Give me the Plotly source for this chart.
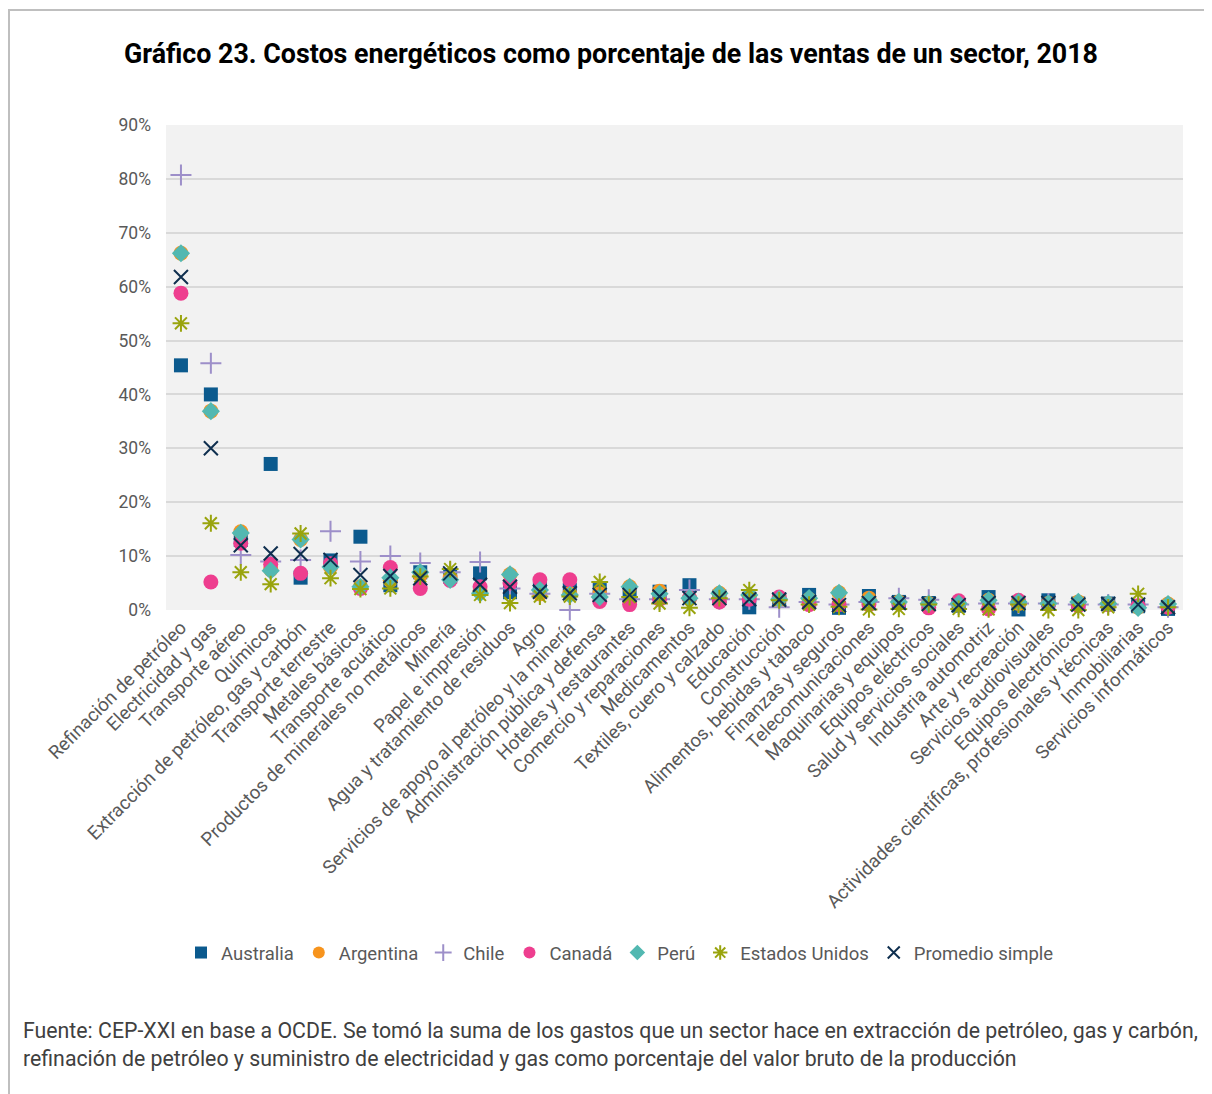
import plotly.graph_objects as go

categories = [
    "Refinación de petróleo", "Electricidad y gas", "Transporte aéreo", "Químicos",
    "Extracción de petróleo, gas y carbón", "Transporte terrestre", "Metales básicos",
    "Transporte acuático", "Productos de minerales no metálicos", "Minería",
    "Papel e impresión", "Agua y tratamiento de residuos", "Agro",
    "Servicios de apoyo al petróleo y la minería", "Administración pública y defensa",
    "Hoteles y restaurantes", "Comercio y reparaciones", "Medicamentos",
    "Textiles, cuero y calzado", "Educación", "Construcción", "Alimentos, bebidas y tabaco",
    "Finanzas y seguros", "Telecomunicaciones", "Maquinarias y equipos", "Equipos eléctricos",
    "Salud y servicios sociales", "Industria automotriz", "Arte y recreación",
    "Servicios audiovisuales", "Equipos electrónicos",
    "Actividades científicas, profesionales y técnicas", "Inmobiliarias", "Servicios informáticos",
]

australia = [45.4, 40.0, 13.0, 27.1, 6.0, 9.2, 13.6, 4.6, 7.0, 6.2, 6.8, 3.3, 4.0, 3.7, 3.7, 2.6, 3.4,
             4.6, 2.5, 0.5, 2.0, 2.8, 0.4, 2.6, 1.5, 1.3, 0.8, 2.4, 0.1, 1.8, 1.2, 1.2, 0.7, 0.2]
argentina = [66.2, 36.9, 14.5, 7.5, 13.1, 8.0, 4.3, 5.5, 6.5, 6.0, 3.5, 6.6, 3.0, 3.0, 3.0, 4.3, 3.5,
             2.2, 3.1, 2.5, 2.0, 2.0, 3.2, 2.2, 1.5, 1.2, 1.2, 1.8, 1.2, 1.2, 1.5, 1.1, 0.5, 1.1]
chile = [80.7, 45.8, 10.2, 9.0, 9.3, 14.6, 9.0, 10.0, 8.7, 7.0, 8.9, 4.0, 3.0, 0.0, 3.0, 2.0, 2.0,
         3.7, 2.0, 2.0, 0.5, 1.5, 1.0, 1.5, 2.2, 1.9, 1.0, 1.2, 1.2, 1.2, 1.0, 1.0, 1.0, 0.5]
canada = [58.8, 5.2, 12.4, 8.5, 6.8, 8.6, 4.0, 7.9, 4.0, 5.5, 4.3, 5.0, 5.6, 5.6, 1.6, 1.0, 2.0,
          2.2, 1.5, 2.0, 2.4, 1.0, 1.0, 1.0, 1.2, 0.4, 1.7, 0.2, 1.8, 1.0, 0.8, 1.0, 0.8, 0.5]
peru = [66.2, 36.9, 14.3, 7.3, 13.1, 8.0, 4.3, 6.0, 7.0, 5.6, 3.1, 6.6, 3.7, 2.8, 2.4, 4.3, 3.0,
        2.2, 3.1, 2.8, 2.0, 2.2, 3.2, 1.8, 1.5, 1.2, 1.2, 1.8, 1.5, 1.2, 1.5, 1.2, 0.4, 1.1]
estados_unidos = [53.2, 16.1, 7.0, 4.8, 14.2, 5.9, 3.9, 4.0, 6.2, 7.6, 2.8, 1.3, 2.5, 2.5, 5.2, 2.4, 1.2,
                  0.4, 2.2, 3.7, 1.8, 1.0, 0.6, 0.1, 0.2, 1.0, 0.2, 0.1, 1.0, 0.0, 0.0, 0.5, 3.0, 0.5]
promedio = [61.8, 30.0, 12.0, 10.5, 10.4, 9.3, 6.5, 6.3, 5.9, 6.8, 4.7, 4.3, 3.4, 3.1, 2.8, 2.8, 2.5,
            2.2, 2.2, 2.0, 1.9, 1.5, 0.9, 1.3, 1.3, 1.1, 0.9, 1.3, 1.3, 1.3, 1.0, 1.1, 1.0, 0.5]

y_ticks = [0, 10, 20, 30, 40, 50, 60, 70, 80, 90]
y_tick_labels = [f"{v}%" for v in y_ticks]

FONT = "Roboto, 'Open Sans', sans-serif"
OFF = 8  # page body margin
W, H = 1212 - OFF, 1094 - OFF
# plot area in page pixels: x 166..1183, y 125..610
L, R, T, B = 166 - OFF, 1212 - 1183, 125 - OFF, 1094 - 610
PW, PH = W - L - R, H - T - B


def px(x):
    return (x - OFF - L) / PW


def py(y):
    return (H - B - (y - OFF)) / PH


series = [
    ("Australia", australia, dict(symbol="square", color="#0b5a8e", size=14)),
    ("Argentina", argentina, dict(symbol="circle", color="#f7941d", size=15)),
    ("Chile", chile, dict(symbol="cross-thin-open", color="#9d8fc9", size=15, line=dict(width=2, color="#9d8fc9"))),
    ("Canadá", canada, dict(symbol="circle", color="#ee3e8f", size=15)),
    ("Perú", peru, dict(symbol="diamond", color="#52b8b1", size=14)),
    ("Estados Unidos", estados_unidos, dict(symbol="asterisk-open", color="#99a40d", size=14, line=dict(width=2, color="#99a40d"))),
    ("Promedio simple", promedio, dict(symbol="x-thin-open", color="#0f2f4f", size=14, line=dict(width=2, color="#0f2f4f"))),
]

fig = go.Figure()
for name, vals, mk in series:
    fig.add_trace(go.Scatter(
        x=categories, y=vals, mode="markers", name=name, marker=mk, cliponaxis=False,
    ))

fig.update_layout(
    width=W, height=H,
    margin=dict(l=L, r=R, t=T, b=B),
    paper_bgcolor="white",
    plot_bgcolor="#f2f2f2",
    font=dict(family=FONT, color="#595959", size=18),
    showlegend=True,
    legend=dict(
        orientation="h", x=px(620), xanchor="center", y=py(953), yanchor="middle",
        font=dict(size=18.5, color="#595959"), itemsizing="constant", tracegroupgap=0,
        itemwidth=30, bgcolor="rgba(0,0,0,0)",
    ),
    xaxis=dict(
        type="category", range=[-0.5, len(categories) - 0.5], tickangle=-45,
        showgrid=False, showline=False, ticks="", tickfont=dict(size=18.7, color="#595959"),
        ticklabelstandoff=2,
    ),
    yaxis=dict(
        range=[0, 90], tickvals=y_ticks, ticktext=y_tick_labels, tickmode="array", showgrid=True,
        gridcolor="#d9d9d9", gridwidth=2, zeroline=False, showline=False, ticks="",
        tickfont=dict(size=17.5, color="#595959"), ticklabelstandoff=14,
    ),
    annotations=[
        dict(text="<b>Gráfico 23. Costos energéticos como porcentaje de las ventas de un sector, 2018</b>",
             xref="paper", yref="paper", x=px(611), y=py(54), xanchor="center", yanchor="middle",
             showarrow=False, font=dict(size=26.8, color="#000000", family=FONT)),
        dict(text="Fuente: CEP-XXI en base a OCDE. Se tomó la suma de los gastos que un sector hace en extracción de petróleo, gas y carbón,",
             xref="paper", yref="paper", x=px(21), y=py(1030), xanchor="left", yanchor="middle",
             showarrow=False, font=dict(size=21.3, color="#404040", family=FONT)),
        dict(text="refinación de petróleo y suministro de electricidad y gas como porcentaje del valor bruto de la producción",
             xref="paper", yref="paper", x=px(21), y=py(1058), xanchor="left", yanchor="middle",
             showarrow=False, font=dict(size=21.3, color="#404040", family=FONT)),
    ],
    shapes=[
        dict(type="line", xref="paper", yref="paper", x0=px(8), x1=px(1212), y0=py(10), y1=py(10),
             line=dict(color="#bfbfbf", width=2), layer="below"),
        dict(type="line", xref="paper", yref="paper", x0=px(9), x1=px(9), y0=py(10), y1=py(1094),
             line=dict(color="#bfbfbf", width=2), layer="below"),
    ],
)

fig.write_html("out.html")
